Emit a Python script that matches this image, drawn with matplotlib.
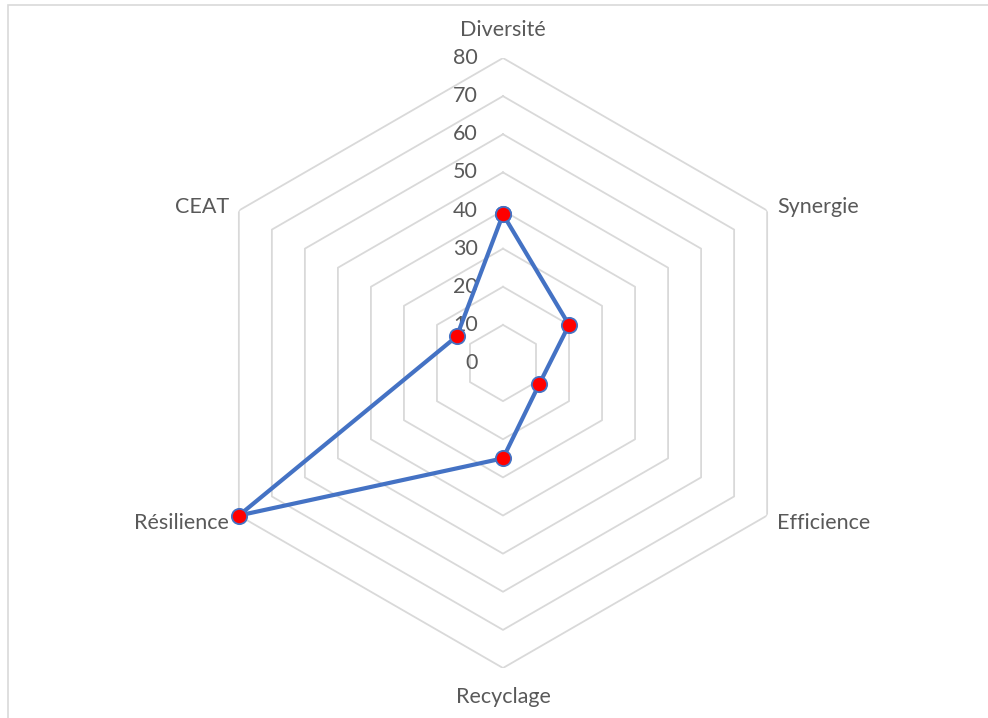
import numpy as np
import matplotlib.pyplot as plt
from matplotlib.patches import Rectangle
from matplotlib.transforms import offset_copy

# axes of the radar, clockwise from the top
criteres = ['Diversité', 'Synergie', 'Efficience', 'Recyclage', 'Résilience', 'CEAT']
scores = [39, 20, 11, 25, 80, 14]
niveaux = [0, 10, 20, 30, 40, 50, 60, 70, 80]

plt.rcParams['font.family'] = ['Lato', 'DejaVu Sans']

n = len(criteres)
angles = np.linspace(0, 2 * np.pi, n, endpoint=False)
angles_ferme = np.append(angles, angles[0])

fig = plt.figure(figsize=(9.88, 7.18), dpi=100)

# light chart-area border
fig.patches.append(Rectangle((8 / 988, -0.1), 1.2, 1 - 5 / 718 + 0.1,
                             transform=fig.transFigure, fill=False,
                             edgecolor='#D9D9D9', linewidth=1.2))

ax = fig.add_axes([0.2004, 0.0696, 0.6174, 0.8496], projection='polar')
ax.set_theta_offset(np.pi / 2)
ax.set_theta_direction(-1)
ax.set_ylim(0, 80)
ax.grid(False)
ax.spines['polar'].set_visible(False)
ax.set_xticks([])
ax.set_yticks([])
ax.patch.set_alpha(0)

# hexagonal grid
for v in niveaux[1:]:
    ax.plot(angles_ferme, [v] * (n + 1), color='#D9D9D9', linewidth=1.3, zorder=1)

# scale labels to the left of the top axis
trans_lbl = offset_copy(ax.transData, fig=fig, x=-25, y=0, units='dots')
for v in niveaux:
    ax.text(0, v, str(v), transform=trans_lbl, ha='right', va='center',
            fontsize=15.5, color='#595959')

# category labels
for a, nom in zip(angles, criteres):
    s, c = np.sin(a), np.cos(a)
    if abs(s) < 0.1:
        ha, dx = 'center', 0
        dy = 28 if c > 0 else -29
    else:
        ha = 'left' if s > 0 else 'right'
        dx = 10 if s > 0 else -10
        dy = 4 if c > 0 else -7
    tr = offset_copy(ax.transData, fig=fig, x=dx, y=dy, units='dots')
    ax.text(a, 80, nom, transform=tr, ha=ha, va='center',
            fontsize=15.5, color='#595959')

ax.plot(angles_ferme, scores + scores[:1], color='#4472C4', linewidth=3,
        marker='o', markersize=11, markerfacecolor='#FF0000',
        markeredgecolor='#4472C4', markeredgewidth=1.3, zorder=3, clip_on=False)

fig.savefig('out.png', dpi=100)
